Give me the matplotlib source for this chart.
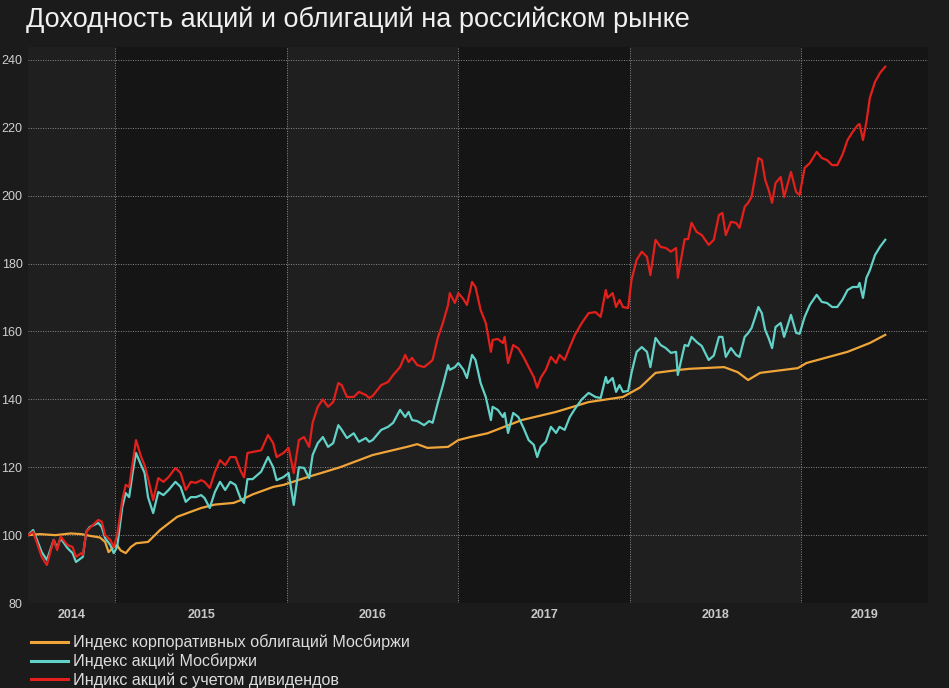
import numpy as np
import matplotlib.pyplot as plt

# даты в долях года (общие для двух индексов акций)
t_stocks = [2014.49, 2014.52, 2014.55, 2014.57, 2014.60, 2014.64, 2014.66, 2014.68, 2014.72, 2014.75,
            2014.77, 2014.80, 2014.81, 2014.83, 2014.85, 2014.90, 2014.92, 2014.94, 2014.97, 2014.99,
            2015.01, 2015.04, 2015.06, 2015.08, 2015.10, 2015.12, 2015.15, 2015.17, 2015.19, 2015.22,
            2015.25, 2015.28, 2015.31, 2015.35, 2015.38, 2015.41, 2015.44, 2015.47, 2015.50, 2015.52,
            2015.55, 2015.58, 2015.61, 2015.64, 2015.67, 2015.70, 2015.73, 2015.75, 2015.77, 2015.80,
            2015.85, 2015.89, 2015.92, 2015.94, 2015.98, 2016.01, 2016.04, 2016.07, 2016.10, 2016.13,
            2016.15, 2016.18, 2016.21, 2016.24, 2016.27, 2016.30, 2016.32, 2016.35, 2016.39, 2016.42,
            2016.46, 2016.48, 2016.50, 2016.55, 2016.59, 2016.62, 2016.66, 2016.69, 2016.71, 2016.73,
            2016.76, 2016.80, 2016.83, 2016.85, 2016.88, 2016.91, 2016.94, 2016.95, 2016.98, 2017.00,
            2017.03, 2017.05, 2017.08, 2017.10, 2017.13, 2017.16, 2017.19, 2017.20, 2017.23, 2017.26,
            2017.27, 2017.29, 2017.32, 2017.35, 2017.38, 2017.41, 2017.44, 2017.46, 2017.48, 2017.51,
            2017.54, 2017.57, 2017.59, 2017.62, 2017.65, 2017.68, 2017.72, 2017.76, 2017.80, 2017.83,
            2017.86, 2017.87, 2017.90, 2017.92, 2017.94, 2017.96, 2017.99, 2018.01, 2018.04, 2018.07,
            2018.10, 2018.12, 2018.15, 2018.18, 2018.21, 2018.24, 2018.27, 2018.28, 2018.32, 2018.34,
            2018.36, 2018.39, 2018.42, 2018.46, 2018.49, 2018.52, 2018.54, 2018.56, 2018.59, 2018.62,
            2018.64, 2018.67, 2018.69, 2018.71, 2018.73, 2018.75, 2018.77, 2018.79, 2018.81, 2018.83,
            2018.85, 2018.88, 2018.90, 2018.94, 2018.97, 2018.99, 2019.02, 2019.05, 2019.09, 2019.12,
            2019.15, 2019.18, 2019.21, 2019.24, 2019.27, 2019.30, 2019.33, 2019.34, 2019.36, 2019.38,
            2019.40, 2019.43, 2019.46, 2019.49]

# Индикс акций с учетом дивидендов
divs = [100, 101, 96.5, 93.6, 91.2, 98.6, 95.6, 99.6, 97.1, 96.5,
        93.6, 94.7, 94.2, 101, 102.1, 104.5, 104, 100, 98.6, 96.5,
        100, 110.3, 114.8, 114.2, 121.2, 128, 123, 120.6, 116.8, 110.3,
        116.8, 115.7, 117.1, 119.8, 118.3, 113.3, 115.7, 115.4, 116.2, 115.7,
        113.9, 118.6, 122.1, 120.6, 123, 123, 119, 117, 124.2, 124.5,
        125, 129.5, 127.1, 123, 124.2, 125.7, 118.3, 128, 128.9, 126,
        133.1, 137.8, 140, 137.8, 139.2, 144.8, 144.2, 140.7, 140.7, 142.2,
        141.3, 140.4, 141, 144.2, 145.1, 147.2, 149.5, 153.1, 151, 152.2,
        150.1, 149.5, 150.7, 151.6, 158.1, 162.5, 167.8, 171.3, 168.4, 171.3,
        169.5, 167.8, 174.6, 173.1, 166.3, 162.5, 154, 157.5, 157.8, 156.6,
        158.4, 150.7, 156, 155, 152.5, 149.5, 146.6, 143.4, 146.3, 148.7,
        152.5, 150.7, 153.1, 151.6, 155.4, 159, 162.5, 165.4, 165.7, 164.3,
        172.2, 169.9, 171.3, 167.2, 169.3, 167.2, 166.9, 175.2, 181.1, 183.5,
        182, 176.6, 187, 184.9, 184.6, 183.5, 184.6, 175.8, 187.2, 187.2,
        192, 189.3, 188.4, 185.5, 187, 194.3, 194.9, 188.4, 192.3, 192,
        190.5, 196.7, 197.9, 199.6, 205.2, 211.1, 210.5, 204.6, 201.7, 197.9,
        203.7, 205.5, 199.6, 207, 201.1, 200.2, 208.2, 209.6, 212.9, 211.1,
        210.5, 209, 209, 212, 216.4, 218.8, 220.8, 221.1, 216.4, 221.7,
        228.8, 233.5, 236.2, 238]

# Индекс акций Мосбиржи
moex = [100, 101.5, 97.6, 95, 92.7, 98.6, 96.2, 99.1, 96.2, 94.7,
        92.1, 93.2, 93.6, 101, 102.4, 103.6, 102.4, 99.1, 97.1, 94.7,
        96.5, 108.3, 112.4, 111.2, 118.3, 124.2, 120.6, 118.3, 111.2, 106.5,
        112.7, 111.8, 113.3, 115.7, 114.2, 109.8, 111.2, 111.2, 111.8, 110.9,
        108, 112.7, 115.7, 113.3, 115.7, 114.8, 110.8, 109.5, 116.5, 116.5,
        118.7, 123, 120, 116.2, 117.1, 118.3, 108.9, 120, 119.8, 116.8,
        123.6, 127.1, 128.9, 126, 127.1, 132.4, 131, 128.6, 130, 127.5,
        128.6, 127.5, 128, 131, 131.9, 133.1, 136.9, 134.8, 136.3, 133.9,
        133.6, 132.4, 133.6, 133.1, 138.9, 144.2, 150.1, 148.7, 149.5, 150.7,
        148.7, 146.3, 153.1, 151.6, 144.8, 140.7, 133.9, 137.8, 136.9, 134.8,
        136, 130.1, 136, 134.8, 131.6, 128, 126.6, 123, 126, 127.5,
        131.9, 130.1, 131.9, 131, 134.8, 137.2, 140, 141.9, 140.7, 140.4,
        146.6, 144.8, 146.3, 142.2, 144.2, 142.2, 142.5, 147.8, 154, 155.4,
        154, 149.5, 158.1, 156, 155.1, 153.7, 154, 147.2, 156, 155.7,
        158.4, 156.9, 155.7, 151.6, 152.9, 158.4, 158.4, 152.5, 155.1, 153.1,
        152.5, 158.4, 159.5, 161, 164, 167.2, 165.4, 160.4, 158, 155.1,
        161.3, 162.5, 158.4, 164.9, 159.6, 159.3, 164.3, 167.8, 170.8, 168.7,
        168.4, 167.2, 167.2, 169.3, 172.2, 173.1, 173.1, 174.3, 169.9, 175.8,
        178, 182.5, 185, 187]

# Индекс корпоративных облигаций Мосбиржи
t_bonds = [2014.49, 2014.56, 2014.65, 2014.74, 2014.80, 2014.85, 2014.91, 2014.94, 2014.96, 2014.99,
           2015.01, 2015.03, 2015.06, 2015.09, 2015.12, 2015.19, 2015.26, 2015.36, 2015.50, 2015.58,
           2015.69, 2015.73, 2015.80, 2015.92, 2015.98, 2016.12, 2016.20, 2016.31, 2016.50, 2016.70,
           2016.76, 2016.82, 2016.94, 2017.00, 2017.07, 2017.17, 2017.37, 2017.57, 2017.76, 2017.96,
           2018.06, 2018.15, 2018.29, 2018.35, 2018.55, 2018.63, 2018.69, 2018.76, 2018.98, 2019.03,
           2019.27, 2019.40, 2019.49]
bonds = [100, 100.3, 100, 100.5, 100.3, 99.8, 99.3, 98, 95, 96.5,
         97, 95.5, 94.7, 96.5, 97.6, 98, 101.5, 105.4, 108, 109,
         109.5, 110.3, 112, 114.2, 114.8, 117.1, 118.3, 120, 123.6, 126,
         126.8, 125.7, 126, 128, 128.9, 130, 133.9, 136.3, 139.2, 140.7,
         143.5, 147.8, 148.7, 149, 149.5, 148, 145.7, 147.8, 149.2, 150.7,
         154, 156.6, 159]

years = [2014, 2015, 2016, 2017, 2018, 2019]
labels = ['Индекс корпоративных облигаций Мосбиржи',
          'Индекс акций Мосбиржи',
          'Индикс акций с учетом дивидендов']

assert len(t_stocks) == len(divs) == len(moex)
assert len(t_bonds) == len(bonds)

plt.rcParams['font.family'] = ['Liberation Sans', 'DejaVu Sans']

BG = '#1b1b1b'
fig = plt.figure(figsize=(9.49, 6.88), dpi=100, facecolor=BG)
ax = fig.add_axes([0.0295, 0.1235, 0.9485, 0.8082])
ax.set_facecolor(BG)

x0, x1 = 2014.49, 2019.74
ax.set_xlim(x0, x1)
ax.set_ylim(80, 243.8)

# чередующиеся полосы по годам
for i, y in enumerate(years):
    a, b = max(y, x0), min(y + 1, x1)
    ax.axvspan(a, b, color='#1f1f1f' if i % 2 == 0 else '#151515', zorder=0, lw=0)

for y in years[1:]:
    ax.axvline(y, color='#8a8a8a', ls=(0, (1, 1.5)), lw=0.7, zorder=1)
for v in range(80, 241, 20):
    ax.axhline(v, color='#8a8a8a', ls=(0, (1, 1.5)), lw=0.7, zorder=1)

l1, = ax.plot(t_bonds, bonds, color='#f0a53a', lw=1.6, zorder=3)
l2, = ax.plot(t_stocks, moex, color='#62d2c8', lw=1.6, zorder=4)
l3, = ax.plot(t_stocks, divs, color='#e3201b', lw=1.6, zorder=5)

centers = [(max(y, x0) + min(y + 1, x1)) / 2 for y in years]
ax.set_xticks(centers)
ax.set_xticklabels([str(y) for y in years], fontsize=9, fontweight='bold', color='#c8c8c8')
ax.set_yticks(range(80, 241, 20))
ax.tick_params(axis='y', labelsize=9, colors='#d0d0d0', length=0, pad=4)
ax.tick_params(axis='x', length=0, pad=4)
for s in ax.spines.values():
    s.set_visible(False)

fig.text(0.027, 0.972, 'Доходность акций и облигаций на российском рынке',
         fontsize=19.5, color='#f0f0f0', va='center', ha='left')

leg = fig.legend([l1, l2, l3], labels, loc='upper left', bbox_to_anchor=(0.033, 0.078),
                 frameon=False, fontsize=11.6, labelcolor='#dcdcdc', handlelength=2.3,
                 handletextpad=0.3, labelspacing=0.2, borderaxespad=0, borderpad=0)
for h in leg.get_lines():
    h.set_linewidth(2.2)

fig.savefig('out.png', dpi=100, facecolor=BG)
